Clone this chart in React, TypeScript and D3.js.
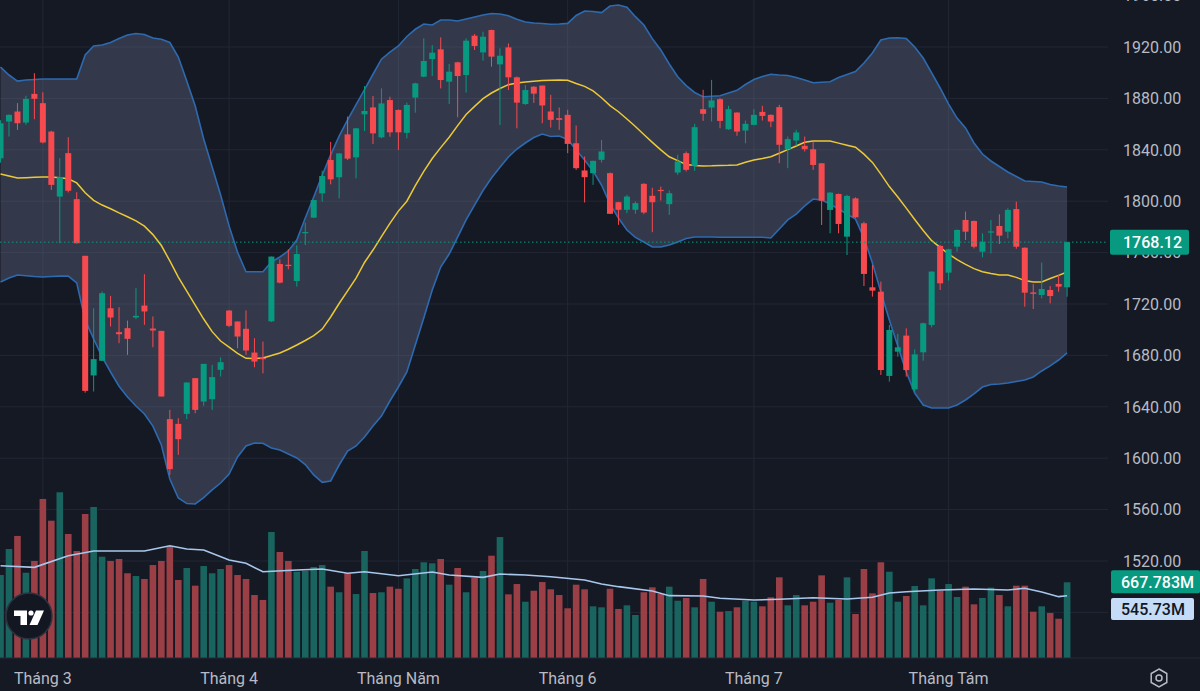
import React, { useEffect } from "react";
import * as d3 from "d3";

// daily candles, first one is cut by the left edge
const opens = [1833.4,1862,1869.8,1861.2,1883.5,1876.3,1854.2,1803.6,1837.4,1801.6,
  1757.5,1664.4,1675.8,1716.7,1698.1,1701.2,1709.5,1718.8,1700.9,1699.1,
  1630.4,1626.7,1634.5,1662.3,1644.1,1645.9,1668.8,1714.9,1706.4,1700.7,
  1682.2,1678,1706.5,1751.1,1750.5,1737.9,1775.5,1787.2,1806.1,1832.1,
  1818.6,1852,1834.1,1867.6,1873,1849.7,1878.7,1871,1853.2,1880.6,
  1896.9,1910.6,1918.2,1893,1908.1,1898.2,1928.8,1915.8,1933.2,1906.5,
  1919.7,1896.4,1875.6,1889.1,1890,1869.8,1864.6,1867.2,1845.1,1823.9,
  1821.8,1832.2,1821.8,1799.2,1793.3,1793.3,1813.5,1804.2,1808.8,1797.7,
  1822.3,1837.4,1827.5,1871.6,1872.9,1879.4,1856,1869,1855,1859.4,
  1869.5,1867.2,1873.2,1840.5,1847.2,1843.1,1840.4,1829.5,1793.2,1805.6,
  1772.4,1802.2,1782.8,1733,1729.6,1664,1682.9,1695.4,1653.6,1682.4,
  1703.7,1765.2,1744.4,1764.6,1785.4,1784.6,1760.7,1775.8,1780.7,1776.3,
  1793.9,1763.8,1729,1727,1730.9,1735.6,1733];

const highs = [1863,1867.5,1876.3,1882,1899.6,1884.8,1854.8,1833.5,1849.8,1807,
  1757.5,1716.7,1729.7,1726.3,1717.5,1707.1,1732.3,1743.2,1710.3,1699.1,
  1637.6,1631.1,1659,1662.3,1673.4,1672.6,1678.4,1715.4,1706.4,1715,
  1693.4,1690.8,1757,1754.8,1762.5,1765.6,1783.3,1801,1823.7,1846.1,
  1837.5,1865.8,1857,1889.6,1881.9,1887.8,1881.3,1871.5,1876.7,1892.2,
  1926.7,1921.5,1927.5,1906.8,1908.5,1926.7,1930.1,1931.9,1933.5,1919,
  1922.8,1897,1890.4,1889.5,1890,1882.8,1872.9,1871.1,1858.9,1834.8,
  1831.5,1847.7,1822.3,1799.5,1805,1799.8,1814,1810.4,1811.4,1808.3,
  1836.1,1838.7,1860.2,1886.7,1894.4,1880.2,1874.2,1869.2,1862.8,1871.6,
  1874.2,1867.5,1875,1850.3,1855.5,1850.3,1846.3,1829.5,1807,1806,
  1805,1803,1784,1750.4,1737.4,1703.7,1696.7,1701.1,1684.7,1705.5,
  1745.5,1766,1763,1778,1791.9,1785,1775,1785.4,1789.8,1794.5,
  1799.6,1764,1735.6,1752.2,1734,1742.6,1768.5];

const lows = [1830,1850.3,1855.5,1859.4,1863.8,1845,1808.8,1767.3,1806.8,1767,
  1651,1651.9,1675.8,1702.5,1689.5,1680.4,1708.2,1703.8,1686.4,1648,
  1587,1602.6,1630.4,1635,1640.7,1637.6,1663.6,1702,1685.6,1680.4,
  1670.8,1666,1706,1736,1747,1733.5,1765.9,1787,1799.6,1813.1,
  1802.2,1832,1817.8,1854.6,1844.5,1849,1850.2,1839.8,1848.9,1868.9,
  1896.4,1897.4,1887.8,1875.6,1865.3,1884.5,1917.7,1909.4,1904.7,1859.3,
  1886.5,1856.7,1875,1876.5,1860.7,1857.3,1855.5,1837.4,1824.4,1799,
  1812.7,1830.1,1790,1781.6,1790.7,1790.2,1789.9,1775.9,1800.5,1789.4,
  1820.5,1823.1,1823.6,1862.5,1862,1856.8,1855.5,1850.9,1845.1,1859,
  1862.8,1857.6,1829.6,1825.7,1843.1,1838.7,1824.3,1781.5,1775,1775,
  1758.1,1787,1734,1725.7,1664.8,1659.6,1679,1663.5,1651.8,1675.9,
  1701.9,1730.9,1738.2,1760.7,1769.8,1763.3,1756.3,1759.4,1766.7,1771.1,
  1763,1717.9,1716.1,1724.4,1720.5,1729.6,1725.7];

const closes = [1860.6,1867.2,1860.7,1879.6,1879.7,1845.7,1812.7,1818.7,1808.1,1767.3,
  1652.4,1677.1,1728.4,1709.5,1696.5,1692.9,1710.8,1714.2,1699.4,1648,
  1591.5,1614.8,1658.9,1637.6,1673.4,1663.1,1674.7,1703,1694.7,1683.8,
  1675.2,1677,1756.9,1736.6,1749.5,1758.9,1776,1800.9,1819.6,1817,
  1837.2,1833.1,1856.7,1870.2,1852.8,1876.1,1853.6,1853.6,1874.9,1891.7,
  1909.1,1915.6,1894.3,1900.8,1897.4,1924.9,1920.8,1928,1912.5,1913.2,
  1896.4,1876.7,1886.5,1883.7,1874.5,1863.3,1863.3,1844.6,1825.7,1818.7,
  1831.4,1838.7,1790.2,1793.3,1803.6,1798.5,1791.2,1799.2,1808,1806.2,
  1830.9,1824.4,1857.6,1868,1878.4,1862.5,1871.6,1854.2,1860.2,1867.2,
  1866.4,1862,1843.9,1848.3,1853.5,1840.5,1828.2,1800.4,1806.7,1782.3,
  1804.1,1787.5,1743.4,1730.4,1668.6,1699.8,1686.3,1668.6,1680.8,1705,
  1745.2,1736.1,1762.6,1777.6,1776.3,1764.6,1768.5,1776.5,1773.2,1793.2,
  1764.6,1728.8,1727.9,1731.7,1726.2,1733.5,1768.12];

// volume in millions
const volumes = [734,971,1090,755,862,1427,1229,1488,1108,953,
  1290,1354,901,862,880,750,725,698,825,862,
  998,689,798,637,816,750,789,825,734,698,
  552,507,1126,944,862,764,771,807,825,628,
  577,750,561,953,570,577,628,609,704,789,
  850,841,880,646,798,577,710,771,910,1080,
  558,652,491,591,670,604,552,431,646,604,
  449,440,609,425,458,370,577,622,561,628,
  500,525,440,698,491,400,406,440,500,491,
  449,531,713,458,552,458,491,731,482,507,
  713,379,789,567,850,764,491,543,634,458,
  704,591,652,534,628,467,525,619,552,449,
  637,637,400,449,388,336,667.783];

// Bollinger bands (20, 2)
const bbUpper = [1904.4,1898.2,1893.5,1894.3,1894.7,1895.1,1895.1,1895.1,1895.1,1895.1,
  1913.8,1920.8,1921.6,1923.5,1926.6,1929.3,1930.5,1929.7,1927,1926,
  1923.5,1912.2,1893.5,1874.1,1848.4,1826.6,1804.8,1780.8,1760.3,1745.1,
  1745.1,1745.1,1752.7,1756.6,1761.3,1769.8,1786.9,1803.3,1820.2,1836,
  1850.7,1863.2,1875.2,1886.9,1898.8,1910.5,1916,1920.8,1928.2,1933.8,
  1937.9,1937.1,1941,1941,1940.2,1941.8,1943.3,1944.9,1946.1,1945.7,
  1944.4,1941.6,1939.5,1938.7,1938.3,1937.7,1937.9,1938.4,1944.5,1948,
  1947.6,1946.8,1951.9,1952.7,1950.9,1943.6,1937.1,1926.5,1917.7,1906.8,
  1896.9,1890,1884.6,1881.3,1881.7,1882.1,1884.2,1886.3,1890.8,1894.7,
  1897,1898.8,1898.2,1897.8,1896.3,1894.3,1892.2,1892.6,1893,1896.3,
  1898.6,1900.9,1907.5,1915.3,1925.4,1927,1927.2,1926.6,1920,1911.4,
  1899.8,1888.1,1875.6,1864.7,1857,1845.3,1836.7,1831.3,1827,1822.7,
  1819.2,1815.7,1815.3,1814.9,1813,1811.8,1811];

const bbBasis = [1821.2,1819.6,1818.1,1818.3,1818.6,1818.8,1818.8,1818.2,1817.5,1814.2,
  1806.6,1800.7,1797,1794.1,1790.9,1787.9,1784.7,1780.6,1774,1765.5,
  1753.5,1741,1730,1719.2,1708.3,1698.5,1691.2,1686.4,1681.6,1677.7,
  1677.6,1678,1679.9,1681.9,1684.8,1688.1,1691.6,1695.4,1700.5,1709.9,
  1720.4,1730.2,1740.1,1752.3,1762,1772.5,1782.7,1792.3,1800,1812.1,
  1823.2,1833.2,1841.7,1849.8,1858.8,1867.5,1873.8,1879.8,1884.2,1887.7,
  1890.7,1892,1892.8,1893.4,1893.9,1894.2,1894.3,1894.1,1891.6,1889.4,
  1885.8,1880.5,1874.4,1869.6,1864,1858.1,1851.9,1845.8,1839.9,1834.6,
  1831.6,1828.5,1827.8,1827.4,1827.5,1827.8,1827.9,1828.2,1830.3,1832.1,
  1833.2,1834.6,1837.3,1840.1,1843,1845.8,1846.9,1846.9,1846.9,1845.2,
  1843.6,1842,1836.6,1830.2,1821.1,1811.4,1803.3,1794.6,1785.8,1777.2,
  1769.3,1764.1,1758.9,1754.5,1750.8,1747.5,1745.1,1743.7,1742.6,1742.6,
  1740.7,1738.2,1737.1,1737.1,1739.8,1742.3,1744.9];

const bbLower = [1737.1,1740.2,1742.6,1742,1741.4,1741,1741.4,1741.7,1741.7,1736.4,
  1707.6,1692.8,1678.8,1667.1,1656,1647.6,1640.6,1634.4,1625,1610.3,
  1583.8,1569,1564.7,1564.4,1569.4,1575.3,1580.7,1587.7,1601,1609.5,
  1611.8,1611.6,1608,1606.4,1603.3,1600.2,1595.1,1587,1581.2,1582.3,
  1594.7,1605.6,1609.5,1616.5,1625,1632.8,1644.5,1655.4,1667.1,1688.1,
  1709.1,1730.9,1748.8,1758.9,1772.1,1785.4,1797,1808.3,1818.1,1826.4,
  1834.4,1840.6,1845.3,1849.6,1852.3,1850.3,1850.7,1848,1839.8,1832.1,
  1823.5,1812.6,1797.8,1786.9,1777.6,1771.8,1768.2,1764.4,1764.4,1765.9,
  1768.2,1771,1772.1,1772.1,1772.1,1772,1772,1772,1772,1772,
  1772,1771.4,1778.4,1785.4,1790,1796.3,1801.7,1800.9,1797.8,1793.9,
  1790,1786.1,1771.4,1751.9,1729.3,1707.6,1687.3,1667.1,1650.7,1641.4,
  1639.1,1639.1,1639.1,1641.4,1645.3,1650,1655.4,1657.4,1657.7,1658.5,
  1659.7,1660.9,1663.2,1667.9,1671.8,1676.4,1681.9];

// volume moving average, read at these candle positions
const volMaIdx = [0,4,8,11,14,17,20,22,24,27,29,31,35,38,41,43,47,51,53,57,59,62,65,69,71,73,77,79,83,85,89,92,96,100,103,105,107,111,115,119,121,123,125,126];
const volMaVal = [819,804,910,953,953,953,1001,971,962,871,841,764,780,789,750,764,728,762,734,713,743,734,719,689,652,628,588,546,543,522,507,513,527,516,531,570,582,598,607,598,613,579,537,545.73];

// grid lines at every tick; labels only where the scale shows them
const priceTicks = [1480,1520,1560,1600,1640,1680,1720,1760,1800,1840,1880,1920,1960];
const priceLabels = [1520,1560,1600,1640,1680,1720,1760,1800,1840,1880,1920,1960];
const monthLabels = ["Tháng 3","Tháng 4","Tháng Năm","Tháng 6","Tháng 7","Tháng Tám"];
const monthStart = [5,27,47,67,89,112];

const lastPrice = 1768.12;
const lastVolume = 667.783;
const lastVolumeMa = 545.73;

const W = 1200;
const H = 691;
const PLOT_R = 1108;
const PANE_B = 658;
const BG = "#151924";
const GRID = "#232735";
const UP = "#089981";
const DOWN = "#f74a4f";
const VOL_UP = "#19645f";
const VOL_DOWN = "#9b3f46";
const TEXT = "#b8bbc4";
const FONT = "Roboto, 'Noto Sans', sans-serif";

export default function App() {
  useEffect(() => {
    document.body.style.margin = "0";
    document.body.style.background = BG;
  }, []);

  const x = d3.scaleLinear().domain([0, closes.length - 1]).range([0.535, 1067.1]);
  const y = d3.scaleLinear().domain([1520, 1920]).range([561, 47]);
  const vy = d3.scaleLinear().domain([0, lastVolume]).range([655.6, 582.3]);
  const idx = d3.range(closes.length);

  const bandPath = d3.area<number>()
    .x(i => x(i))
    .y0(i => y(bbLower[i]))
    .y1(i => y(bbUpper[i]))(idx);
  const linePath = (arr: number[]) =>
    d3.line<number>().x(i => x(i)).y(i => y(arr[i]))(idx);
  const volMaPath = d3.line<number>()
    .x((_, k) => x(volMaIdx[k]))
    .y(v => vy(v))(volMaVal);

  const bodyW = 6;
  const volW = 6.6;
  const priceY = y(lastPrice);

  return (
    <svg width={W} height={H} style={{ display: "block" }} fontFamily={FONT}>
      <defs>
        <clipPath id="pane">
          <rect x={0} y={0} width={PLOT_R} height={PANE_B} />
        </clipPath>
      </defs>
      <rect width={W} height={H} fill={BG} />

      <g clipPath="url(#pane)">
        {/* grid */}
        {priceTicks.map(t => (
          <line key={"h" + t} x1={0} x2={PLOT_R} y1={y(t)} y2={y(t)} stroke={GRID} strokeWidth={1} />
        ))}
        {monthStart.map(m => (
          <line key={"v" + m} x1={x(m)} x2={x(m)} y1={0} y2={PANE_B} stroke={GRID} strokeWidth={1} />
        ))}

        {/* volume */}
        {idx.map(i => (
          <rect key={"vol" + i}
            x={x(i) - volW / 2} width={volW}
            y={vy(volumes[i])} height={vy(0) - vy(volumes[i]) + 3}
            fill={closes[i] >= opens[i] ? VOL_UP : VOL_DOWN} />
        ))}
        <path d={volMaPath ?? ""} fill="none" stroke="#a8c7ec" strokeWidth={1.6} />

        {/* bollinger */}
        <path d={bandPath ?? ""} fill="rgba(130,140,175,0.28)" />
        <path d={linePath(bbUpper) ?? ""} fill="none" stroke="#2d6ab0" strokeWidth={1.6} />
        <path d={linePath(bbLower) ?? ""} fill="none" stroke="#2d6ab0" strokeWidth={1.6} />
        <path d={linePath(bbBasis) ?? ""} fill="none" stroke="#ecc935" strokeWidth={1.5} />

        {/* candles */}
        {idx.map(i => {
          const up = closes[i] >= opens[i];
          const c = up ? UP : DOWN;
          const cx = x(i);
          const top = y(Math.max(opens[i], closes[i]));
          const bot = y(Math.min(opens[i], closes[i]));
          return (
            <g key={"c" + i}>
              <line x1={cx} x2={cx} y1={y(highs[i])} y2={y(lows[i])} stroke={c} strokeWidth={1} />
              <rect x={cx - bodyW / 2} width={bodyW} y={top} height={Math.max(1.2, bot - top)} fill={c} />
            </g>
          );
        })}

        {/* last price line */}
        <line x1={0} x2={PLOT_R} y1={priceY} y2={priceY} stroke={UP} strokeWidth={1} strokeDasharray="1.5 2.5" />
      </g>

      <line x1={0} x2={W} y1={PANE_B} y2={PANE_B} stroke="#262a37" strokeWidth={1} />

      {/* price scale */}
      {priceLabels.map(t => (
        <text key={"t" + t} x={1123} y={y(t)} dy="0.36em" fontSize={16} fill={TEXT}>
          {t.toFixed(2)}
        </text>
      ))}
      <rect x={1110} y={priceY - 12.5} width={79} height={25} rx={2} fill={UP} />
      <text x={1123} y={priceY} dy="0.36em" fontSize={16} fontWeight={500} fill="#ffffff">
        {lastPrice.toFixed(2)}
      </text>

      <rect x={1111} y={vy(lastVolume) - 12} width={89} height={23} rx={2} fill={UP} />
      <text x={1121} y={vy(lastVolume) - 0.5} dy="0.36em" fontSize={16} fontWeight={500} fill="#ffffff">
        {lastVolume.toFixed(3) + "M"}
      </text>
      <rect x={1111} y={598} width={83} height={22} rx={2} fill="#c4dcf8" />
      <text x={1121} y={609} dy="0.36em" fontSize={16} fontWeight={500} fill="#131722">
        {lastVolumeMa.toFixed(2) + "M"}
      </text>

      {/* time scale */}
      {monthLabels.map((m, k) => (
        <text key={m} x={x(monthStart[k])} y={678} dy="0.36em" fontSize={16} fill={TEXT} textAnchor="middle">
          {m}
        </text>
      ))}

      {/* settings icon */}
      <g transform="translate(1159,678)" fill="none" stroke={TEXT} strokeWidth={1.5}>
        <path d={d3.range(6).map(k => {
          const a = (Math.PI / 3) * k - Math.PI / 2;
          return (k ? "L" : "M") + (9 * Math.cos(a)).toFixed(2) + "," + (9 * Math.sin(a)).toFixed(2);
        }).join("") + "Z"} />
        <circle r={3} />
      </g>

      {/* logo */}
      <g>
        <circle cx={29} cy={616} r={23} fill="#131722" stroke="#2e3240" strokeWidth={1.5} />
        <path d="M14,610.5 H27 V625 H20.5 V616 H14 Z" fill="#ffffff" />
        <circle cx={31} cy={613} r={2.6} fill="#ffffff" />
        <path d="M36,610.5 H44 L37.5,625 H29.5 Z" fill="#ffffff" />
      </g>
    </svg>
  );
}
